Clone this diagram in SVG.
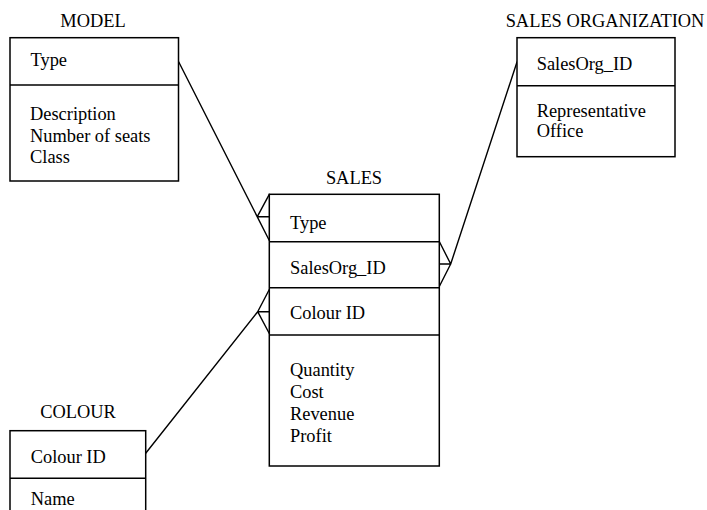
<svg xmlns="http://www.w3.org/2000/svg" width="707" height="510" viewBox="0 0 707 510">
  <style>
    .box { fill: #ffffff; stroke: #000000; stroke-width: 1.5; }
    .div { stroke: #000000; stroke-width: 1.5; }
    .rel { fill: none; stroke: #000000; stroke-width: 1.4; stroke-linecap: round; stroke-linejoin: round; }
    text { font-family: "Liberation Serif", "Times New Roman", serif; font-size: 18.4px; fill: #000000; }
    .title { text-anchor: middle; }
  </style>
  <rect width="707" height="510" fill="#ffffff"/>

  <!-- Relationships (many side drawn as crow's foot at SALES) -->
  <g id="connectors">
    <!-- MODEL.Type to SALES.Type -->
    <path class="rel" d="M178.5 61.5 L269.3 240.5 M257.3 216.7 L269.3 194.3 M257.3 216.7 L269.3 216.7"/>
    <!-- SALES ORGANIZATION.SalesOrg_ID to SALES.SalesOrg_ID -->
    <path class="rel" d="M517 62 L450.7 264 M450.7 264 L439.3 241.5 M450.7 264 L439.3 264 M450.7 264 L439.3 286.5"/>
    <!-- COLOUR.Colour ID to SALES.Colour ID -->
    <path class="rel" d="M145.7 453.3 L257.7 311.7 M257.7 311.7 L269.3 289.5 M257.7 311.7 L269.3 311.7 M257.7 311.7 L269.3 333.5"/>
  </g>

  <g id="model">
    <text class="title" x="93" y="27">MODEL</text>
    <rect class="box" x="10" y="37.7" width="168.5" height="143.3"/>
    <line class="div" x1="10" y1="85" x2="178.5" y2="85"/>
    <text x="30.5" y="66">Type</text>
    <text x="30" y="120">Description</text>
    <text x="30" y="141.7">Number of seats</text>
    <text x="30" y="163.3">Class</text>
  </g>

  <g id="sales-organization">
    <text class="title" x="605" y="27">SALES ORGANIZATION</text>
    <rect class="box" x="517" y="37.7" width="158" height="119"/>
    <line class="div" x1="517" y1="85.7" x2="675" y2="85.7"/>
    <text x="536.7" y="70">SalesOrg_ID</text>
    <text x="536.7" y="116.7">Representative</text>
    <text x="536.7" y="137.3">Office</text>
  </g>

  <g id="sales">
    <text class="title" x="354" y="184">SALES</text>
    <rect class="box" x="269.3" y="194.3" width="170" height="271.7"/>
    <line class="div" x1="269.3" y1="241.7" x2="439.3" y2="241.7"/>
    <line class="div" x1="269.3" y1="287.7" x2="439.3" y2="287.7"/>
    <line class="div" x1="269.3" y1="335" x2="439.3" y2="335"/>
    <text x="290" y="229.3">Type</text>
    <text x="290" y="274">SalesOrg_ID</text>
    <text x="290" y="319">Colour ID</text>
    <text x="290" y="376">Quantity</text>
    <text x="290" y="398">Cost</text>
    <text x="290" y="420">Revenue</text>
    <text x="290" y="442">Profit</text>
  </g>

  <g id="colour">
    <text class="title" x="78" y="418.3">COLOUR</text>
    <rect class="box" x="10" y="430.7" width="135.7" height="100"/>
    <line class="div" x1="10" y1="478.3" x2="145.7" y2="478.3"/>
    <text x="30.7" y="463.3">Colour ID</text>
    <text x="30.7" y="505">Name</text>
  </g>
</svg>
